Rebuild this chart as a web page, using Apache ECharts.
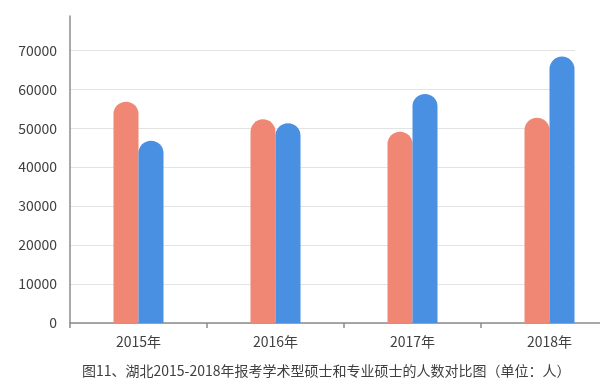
<!DOCTYPE html>
<html>
<head>
<meta charset="utf-8">
<script src="https://cdn.jsdelivr.net/npm/echarts@6/dist/echarts.min.js"></script>
<style>
html,body{margin:0;padding:0;background:#fff;}
#chart{width:600px;height:387px;}
</style>
</head>
<body>
<div id="chart"></div>
<script>
var categories = ['2015年', '2016年', '2017年', '2018年'];
var academicMaster = [56800, 52300, 49100, 52700];
var professionalMaster = [46800, 51300, 58800, 68400];
var caption = '图11、湖北2015-2018年报考学术型硕士和专业硕士的人数对比图（单位：人）';

var FONT = '"Noto Sans CJK SC", "Noto Sans", sans-serif';
var GRID_C = '#e3e3e3';
var chart = echarts.init(document.getElementById('chart'), null, {renderer: 'canvas'});
chart.setOption({
  animation: false,
  backgroundColor: '#ffffff',
  title: {
    text: caption,
    left: 82,
    top: 364,
    padding: 0,
    textStyle: {fontFamily: FONT, fontSize: 14, fontWeight: 'normal', color: '#404040'}
  },
  grid: [
    {left: 70, width: 548, top: 16, height: 307, containLabel: false, outerBoundsMode: 'none'},
    {left: 70, width: 505, top: 16, height: 307, containLabel: false, outerBoundsMode: 'none'}
  ],
  xAxis: [
    {
      type: 'category',
      gridIndex: 0,
      data: categories,
      boundaryGap: true,
      axisLine: {show: true, lineStyle: {color: '#8c8c8c', width: 1.5}},
      axisTick: {show: true, length: 5, lineStyle: {color: '#8c8c8c', width: 1.5}},
      axisLabel: {fontFamily: FONT, fontSize: 14, color: '#404040', margin: 12}
    },
    {
      type: 'category',
      gridIndex: 1,
      data: categories,
      show: false
    }
  ],
  yAxis: [
    {
      type: 'value',
      gridIndex: 0,
      min: 0,
      max: 78800,
      interval: 10000,
      axisLine: {show: true, lineStyle: {color: '#8c8c8c', width: 1.5}},
      axisTick: {show: false},
      axisLabel: {fontFamily: FONT, fontSize: 14, color: '#404040', margin: 13, showMaxLabel: false,
        formatter: function (v) { return String(v); }},
      splitLine: {show: false}
    },
    {
      type: 'value',
      gridIndex: 1,
      min: 0,
      max: 78800,
      interval: 10000,
      z: 0,
      axisLine: {show: false},
      axisTick: {show: false},
      axisLabel: {show: false},
      splitLine: {show: true, lineStyle: {color: [GRID_C, GRID_C, GRID_C, GRID_C, GRID_C, GRID_C, GRID_C, GRID_C, 'rgba(0,0,0,0)'], width: 1}}
    }
  ],
  series: [
    {
      name: '学术型硕士',
      type: 'bar',
      xAxisIndex: 0,
      yAxisIndex: 0,
      data: academicMaster,
      barWidth: 25,
      barGap: '0%',
      itemStyle: {color: '#f08674', borderRadius: [12.5, 12.5, 0, 0]}
    },
    {
      name: '专业硕士',
      type: 'bar',
      xAxisIndex: 0,
      yAxisIndex: 0,
      data: professionalMaster,
      barWidth: 25,
      barGap: '0%',
      itemStyle: {color: '#4a90e2', borderRadius: [12.5, 12.5, 0, 0]}
    }
  ]
});
</script>
</body>
</html>
